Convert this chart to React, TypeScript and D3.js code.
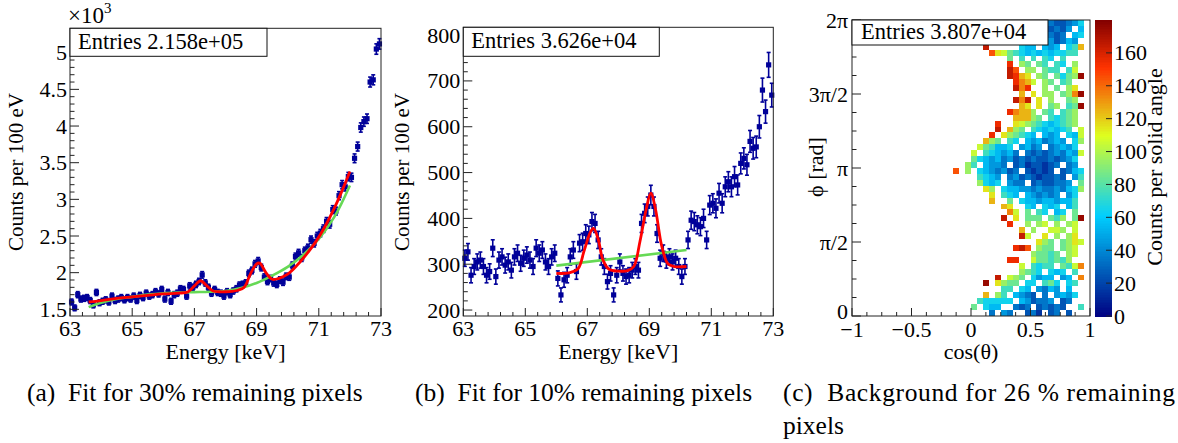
import React from 'react';
import * as d3 from 'd3';

const FONT = '"Liberation Serif", "Times New Roman", Times, serif';
const NAVY = '#000099';
const RED = '#ff0000';
const GREEN = '#66d955';
const TICK_FS = 22;

// ---------- panel (a): counts per 100 eV (x10^3), bins of 0.1 keV from 63 keV ----------
const binStart = 63;
const binWidth = 0.1;
const countsA = [
  1.60, 1.52, 1.70, 1.64, 1.65, 1.66, 1.62, 1.56, 1.73, 1.59,
  1.61, 1.63, 1.60, 1.68, 1.62, 1.64, 1.66, 1.63, 1.66, 1.64,
  1.68, 1.62, 1.69, 1.66, 1.72, 1.68, 1.70, 1.74, 1.71, 1.77,
  1.64, 1.73, 1.61, 1.70, 1.72, 1.78, 1.77, 1.68, 1.82, 1.80,
  1.84, 1.88, 1.97, 1.86, 1.80, 1.72, 1.77, 1.73, 1.72, 1.68,
  1.74, 1.70, 1.75, 1.78, 1.83, 1.84, 1.86, 1.99, 2.03, 2.12,
  2.16, 2.07, 1.94, 1.88, 1.92, 1.86, 1.84, 1.90, 1.87, 1.95,
  1.94, 2.10, 2.22, 2.27, 2.20, 2.30, 2.34, 2.45, 2.40, 2.50,
  2.54, 2.60, 2.70, 2.66, 2.86, 2.84, 3.05, 3.20, 3.17, 3.31,
  3.30, 3.56, 3.72, 3.98, 4.06, 4.10, 4.60, 4.63, 5.05, 5.12,
];
const redFitA: [number, number][] = [
  [63.6, 1.60], [64.0, 1.62], [64.5, 1.65], [65.0, 1.67], [65.5, 1.69], [66.0, 1.71],
  [66.5, 1.72], [66.8, 1.74], [67.0, 1.82], [67.2, 1.89], [67.4, 1.82], [67.6, 1.75],
  [67.8, 1.74], [68.0, 1.74], [68.2, 1.745], [68.4, 1.76], [68.6, 1.80], [68.8, 1.98],
  [69.0, 2.12], [69.1, 2.13], [69.3, 2.00], [69.5, 1.91], [69.7, 1.92], [70.0, 1.98],
  [70.3, 2.10], [70.6, 2.25], [70.9, 2.42], [71.2, 2.63], [71.5, 2.88], [71.8, 3.17], [72.0, 3.38],
];
const greenFitA: [number, number][] = [
  [63.6, 1.53], [64.0, 1.59], [64.5, 1.64], [65.0, 1.67], [65.5, 1.70], [66.0, 1.72],
  [66.5, 1.73], [67.0, 1.735], [67.5, 1.74], [68.0, 1.75], [68.5, 1.79], [69.0, 1.86],
  [69.5, 1.96], [70.0, 2.08], [70.5, 2.24], [71.0, 2.46], [71.5, 2.76], [72.0, 3.19],
];
const yTicksA = [1.5, 2, 2.5, 3, 3.5, 4, 4.5, 5];
const yLabelsA = ['1.5', '2', '2.5', '3', '3.5', '4', '4.5', '5'];

// ---------- panel (b) ----------
const countsB = [
  313, 327, 276, 295, 305, 309, 295, 276, 284, 335,
  273, 309, 316, 298, 305, 287, 316, 324, 302, 313,
  320, 309, 295, 335, 324, 331, 305, 295, 316, 324,
  269, 233, 266, 276, 316, 331, 284, 346, 349, 367,
  364, 393, 389, 353, 316, 295, 262, 280, 233, 276,
  305, 280, 273, 276, 287, 295, 287, 389, 411, 426,
  451, 426, 367, 313, 324, 309, 316, 305, 313, 295,
  273, 295, 353, 396, 393, 386, 382, 400, 353, 429,
  433, 422, 455, 433, 469, 480, 469, 491, 473, 520,
  531, 517, 568, 553, 556, 600, 680, 633, 735, 669,
];
const redFitB: [number, number][] = [
  [66.0, 280], [66.4, 281], [66.7, 290], [66.9, 330], [67.1, 370], [67.2, 378], [67.35, 355],
  [67.5, 310], [67.7, 289], [68.0, 285], [68.3, 286], [68.5, 295], [68.7, 350], [68.9, 420],
  [69.05, 455], [69.2, 420], [69.4, 340], [69.6, 301], [69.8, 295], [70.2, 295],
];
const greenFitB: [number, number][] = [[66.0, 297], [70.2, 331]];
const yTicksB = [200, 300, 400, 500, 600, 700, 800];

const energyTicks = [63, 65, 67, 69, 71, 73];

// ---------- panel (c): rows top (phi bin 49) to bottom (phi bin 0), columns cos bins 17..38 ----------
// char code: '.' empty, otherwise value = parseInt(c,36)*10+5
const phiRows = [
  '................322346',
  '................2324.5',
  '................323.56',
  '................42354.',
  '.....g.....655.545.67c',
  '......eba876565656677.',
  '.........8.7.7.76.7...',
  '.........f.98.87.76.9.',
  '.........ge.99.877.7a.',
  '.........gfcb.98.8689h',
  '..........fdca.98.78..',
  '..........gdf..9.8.9b.',
  '...........c.b.99.89dh',
  '..........gdg.b.9..89.',
  '...........cb.b.89.78h',
  '.........fdcc9.87.789.',
  '..........ccc98.76789.',
  '.......f..ba987656789.',
  '.......g.c98.7656567.a',
  '......f.b98765.545.65a',
  '.....c98.76.5453454.69',
  '....a87556.4534.34546.',
  '...a.765453.323234354a',
  '...865453423232232346.',
  '..97.5443.23122123.34.',
  'e.9.6543423.21212.2356',
  '....7654.3423212232.47',
  '....9656.433.2322334.8',
  '.....b9.65544343343569',
  '......b.765.543434.46.',
  '......c..8.6554554557.',
  '........cb..65.656.57.',
  '.........da.8.76.56.8.',
  '........g.b.888.879.8h',
  '.........f..9.9a.9.9a.',
  '...........c.9..aa9.a.',
  '...........ga..b.9.9b.',
  '..............b98.89ba',
  '..........fge.988.89a.',
  '.............98878.9a.',
  '.........ff..a887879..',
  '...........a.7677.87ad',
  '...........9876.656.7.',
  '.......g.a98.6455.45.d',
  '.....h.b988.66.786.67.',
  '........77.65.4354.5..',
  '.....c.97.5432.3.4546.',
  '....766666.542334.23..',
  '...8.655..323.23232..7',
  '......3.43..231.23.2..',
];
const firstCol = 17;
const nCos = 40;
const nPhi = 50;
const cosTicks = [-1, -0.5, 0, 0.5, 1];
const cosLabels = ['\u22121', '\u22120.5', '0', '0.5', '1'];
const phiTicks = [0, Math.PI / 2, Math.PI, 1.5 * Math.PI, 2 * Math.PI];
const phiLabels = ['0', '\u03c0/2', '\u03c0', '3\u03c0/2', '2\u03c0'];
const zTicks = [0, 20, 40, 60, 80, 100, 120, 140, 160];
const zMax = 180;

const palette = d3
  .scaleLinear<string>()
  .domain([0, 0.34, 0.61, 0.84, 1].map((s) => s * zMax))
  .range(['rgb(0,0,130)', 'rgb(0,207,255)', 'rgb(222,255,31)', 'rgb(255,51,0)', 'rgb(130,0,0)'])
  .interpolate(d3.interpolateRgb)
  .clamp(true);

function frac(a: number, b: number, step: number) {
  const out: number[] = [];
  for (let v = a; v <= b + 1e-9; v += step) out.push(+v.toFixed(6));
  return out;
}

type PanelProps = {
  x0: number; x1: number; top: number; bottom: number;
  yDomain: [number, number];
  yTicks: number[]; yLabels: string[]; yMinor: number[];
  counts: number[]; scale: number;
  red: [number, number][]; green: [number, number][];
  entries: string; boxW: number; boxH: number;
  yTitleX: number;
};

function SpectrumPanel(p: PanelProps) {
  const xs = d3.scaleLinear().domain([63, 73]).range([p.x0, p.x1]);
  const ys = d3.scaleLinear().domain(p.yDomain).range([p.bottom, p.top]);
  const line = d3
    .line<[number, number]>()
    .x((d) => xs(d[0]))
    .y((d) => ys(d[1]))
    .curve(d3.curveCatmullRom.alpha(0.5));
  const minorX = frac(63, 73, 0.4);
  return (
    <g fontFamily={FONT}>
      <rect x={p.x0} y={p.top} width={p.x1 - p.x0} height={p.bottom - p.top} fill="white" stroke="none" />
      <g>
        {p.counts.map((v, i) => {
          const e = binStart + (i + 0.5) * binWidth;
          const err = Math.sqrt(v * p.scale) / p.scale;
          const cx = xs(e);
          const yHi = Math.max(ys(v + err), p.top);
          const yLo = ys(v - err);
          return (
            <g key={i} stroke={NAVY} fill={NAVY}>
              <line x1={cx} x2={cx} y1={yHi} y2={yLo} strokeWidth={1.6} />
              {ys(v + err) > p.top && <line x1={cx - 2} x2={cx + 2} y1={yHi} y2={yHi} strokeWidth={1.6} />}
              <line x1={cx - 2} x2={cx + 2} y1={yLo} y2={yLo} strokeWidth={1.6} />
              <rect x={cx - 2.6} y={ys(v) - 2.6} width={5.2} height={5.2} stroke="none" />
            </g>
          );
        })}
      </g>
      <path d={line(p.green) || ''} fill="none" stroke={GREEN} strokeWidth={2.6} />
      <path d={line(p.red) || ''} fill="none" stroke={RED} strokeWidth={2.8} />
      <rect x={p.x0} y={p.top} width={p.x1 - p.x0} height={p.bottom - p.top} fill="none" stroke="#222" strokeWidth={1} />
      {minorX.map((t) => {
        const major = energyTicks.some((m) => Math.abs(m - t) < 1e-6);
        return <line key={'xt' + t} x1={xs(t)} x2={xs(t)} y1={p.bottom} y2={p.bottom - (major ? 8 : 4)} stroke="#222" strokeWidth={1} />;
      })}
      {energyTicks.map((t) => (
        <text key={'xl' + t} x={xs(t)} y={p.bottom + 20} fontSize={TICK_FS} textAnchor="middle">{t}</text>
      ))}
      {p.yMinor.map((t) => {
        const major = p.yTicks.some((m) => Math.abs(m - t) < 1e-6);
        return <line key={'yt' + t} x1={p.x0} x2={p.x0 + (major ? 9 : 4.5)} y1={ys(t)} y2={ys(t)} stroke="#222" strokeWidth={1} />;
      })}
      {p.yTicks.map((t, i) => (
        <text key={'yl' + t} x={p.x0 - 3} y={ys(t) + 7.5} fontSize={TICK_FS} textAnchor="end">{p.yLabels[i]}</text>
      ))}
      <text x={(p.x0 + p.x1) / 2} y={p.bottom + 43} fontSize={22} textAnchor="middle">Energy [keV]</text>
      <text transform={`translate(${p.yTitleX},172) rotate(-90)`} fontSize={21} textAnchor="middle">Counts per 100 eV</text>
      <rect x={p.x0} y={p.top} width={p.boxW} height={p.boxH} fill="white" stroke="#111" strokeWidth={1} />
      <text x={p.x0 + 8} y={p.top + 21} fontSize={22.5}>{p.entries}</text>
    </g>
  );
}

function HeatPanel() {
  const x0 = 852, x1 = 1090, top = 20, bottom = 316;
  const xs = d3.scaleLinear().domain([-1, 1]).range([x0, x1]);
  const ys = d3.scaleLinear().domain([0, 2 * Math.PI]).range([bottom, top]);
  const zs = d3.scaleLinear().domain([0, zMax]).range([bottom, top]);
  const dCos = 2 / nCos;
  const dPhi = (2 * Math.PI) / nPhi;
  const cells: JSX.Element[] = [];
  phiRows.forEach((row, k) => {
    const r = nPhi - 1 - k;
    row.split('').forEach((ch, i) => {
      if (ch === '.') return;
      const col = firstCol + i;
      const v = parseInt(ch, 36) * 10 + 5;
      const xa = xs(-1 + col * dCos);
      const xb = xs(-1 + (col + 1) * dCos);
      const ya = ys((r + 1) * dPhi);
      const yb = ys(r * dPhi);
      cells.push(<rect key={k + '-' + i} x={xa} y={ya} width={xb - xa} height={yb - ya} fill={palette(v)} />);
    });
  });
  const minorX = frac(-1, 1, 0.125);
  const minorY = frac(0, 16, 1).map((k) => (k * Math.PI) / 8);
  const cbX0 = 1095, cbX1 = 1112;
  const bands = d3.range(0, zMax, 1);
  return (
    <g fontFamily={FONT}>
      <g shapeRendering="crispEdges">{cells}</g>
      <rect x={x0} y={top} width={x1 - x0} height={bottom - top} fill="none" stroke="#222" strokeWidth={1} />
      {minorX.map((t) => {
        const major = cosTicks.some((m) => Math.abs(m - t) < 1e-6);
        return <line key={'cx' + t} x1={xs(t)} x2={xs(t)} y1={bottom} y2={bottom - (major ? 8 : 4)} stroke="#222" />;
      })}
      {cosTicks.map((t, i) => (
        <text key={'cl' + t} x={xs(t)} y={bottom + 21} fontSize={TICK_FS} textAnchor="middle">{cosLabels[i]}</text>
      ))}
      {minorY.map((t, i) => (
        <line key={'py' + i} x1={x0} x2={x0 + (i % 4 === 0 ? 9 : 4.5)} y1={ys(t)} y2={ys(t)} stroke="#222" />
      ))}
      {phiTicks.map((t, i) => (
        <text key={'pl' + i} x={x0 - 4} y={ys(t) + (i === 0 ? 3 : 7.5)} fontSize={TICK_FS} textAnchor="end">{phiLabels[i]}</text>
      ))}
      <text x={xs(0)} y={bottom + 43} fontSize={22} textAnchor="middle">cos(&#952;)</text>
      <text transform={`translate(823,167) rotate(-90)`} fontSize={22} textAnchor="middle">&#981; [rad]</text>
      <g shapeRendering="crispEdges">
        {bands.map((b) => (
          <rect key={'cb' + b} x={cbX0} y={zs(b + 1)} width={cbX1 - cbX0} height={zs(b) - zs(b + 1) + 0.5} fill={palette(b + 0.5)} />
        ))}
      </g>
      {zTicks.map((t) => (
        <g key={'zt' + t}>
          <line x1={cbX1} x2={cbX1 - 6} y1={zs(t)} y2={zs(t)} stroke="#222" />
          <text x={cbX1 + 2} y={zs(t) + 7.5} fontSize={TICK_FS}>{t}</text>
        </g>
      ))}
      <text transform={`translate(1162,167) rotate(-90)`} fontSize={22} textAnchor="middle">Counts per solid angle</text>
      <rect x={x0} y={top} width={196} height={25} fill="white" stroke="#111" strokeWidth={1} />
      <text x={x0 + 9} y={top + 19} fontSize={22.5}>Entries 3.807e+04</text>
    </g>
  );
}

export default function App() {
  return (
    <svg
      width={1178}
      height={443}
      viewBox="0 0 1178 443"
      style={{ position: 'absolute', left: 0, top: 0, background: 'white' }}
      fontFamily={FONT}
    >
      <rect x={0} y={0} width={1178} height={443} fill="white" />
      <SpectrumPanel
        x0={70} x1={381} top={28.3} bottom={316}
        yDomain={[1.409, 5.333]}
        yTicks={yTicksA} yLabels={yLabelsA} yMinor={frac(1.5, 5.3, 0.1)}
        counts={countsA} scale={1000}
        red={redFitA} green={greenFitA}
        entries="Entries 2.158e+05" boxW={197} boxH={28}
        yTitleX={23}
      />
      <text x={68} y={23} fontSize={23} fontFamily={FONT}>&#215;10<tspan fontSize={15} dy={-10}>3</tspan></text>
      <SpectrumPanel
        x0={463.3} x1={773.3} top={27.3} bottom={316}
        yDomain={[187, 817]}
        yTicks={yTicksB} yLabels={yTicksB.map(String)} yMinor={frac(200, 800, 20)}
        counts={countsB} scale={1}
        red={redFitB} green={greenFitB}
        entries="Entries 3.626e+04" boxW={196} boxH={29}
        yTitleX={409}
      />
      <HeatPanel />
      <g fontFamily={FONT} fontSize={25.5}>
        <text x={27} y={401} xmlSpace="preserve">(a)  Fit for 30% remaining pixels</text>
        <text x={415} y={401} xmlSpace="preserve">(b)  Fit for 10% remaining pixels</text>
        <text x={783} y={401} xmlSpace="preserve" textLength={392} lengthAdjust="spacing">(c)  Background for 26 % remaining</text>
        <text x={783} y={434}>pixels</text>
      </g>
    </svg>
  );
}
